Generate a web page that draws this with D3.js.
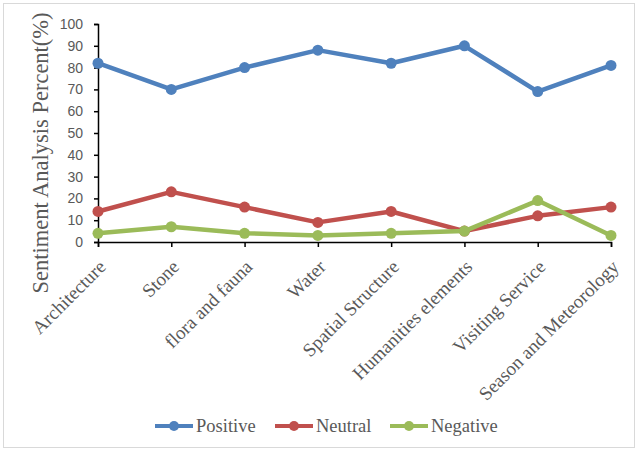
<!DOCTYPE html>
<html>
<head>
<meta charset="utf-8">
<script src="https://cdn.jsdelivr.net/npm/d3@7"></script>
<style>
  html, body { margin: 0; padding: 0; background: #fff; }
  svg { display: block; }
</style>
</head>
<body>
<svg id="chart" width="638" height="452"></svg>
<script>
// Sentiment share (%) for each landscape category
const categories = ["Architecture", "Stone", "flora and fauna", "Water", "Spatial Structure", "Humanities elements", "Visiting Service", "Season and Meteorology"];
const positive = [82, 70, 80, 88, 82, 90, 69, 81];
const neutral  = [14, 23, 16, 9, 14, 5, 12, 16];
const negative = [4, 7, 4, 3, 4, 5, 19, 3];
const seriesNames = ["Positive", "Neutral", "Negative"];
const yTicks = [0, 10, 20, 30, 40, 50, 60, 70, 80, 90, 100];

const colors = ["#4f81bd", "#c0504d", "#9bbb59"];
const series = [positive, neutral, negative].map((vals, i) => ({
  name: seriesNames[i], color: colors[i], values: vals
}));

const svg = d3.select("#chart");

// outer frame
svg.append("rect")
  .attr("x", 3.5).attr("y", 3.5).attr("width", 631).attr("height", 444)
  .attr("fill", "#fff").attr("stroke", "#d9d9d9").attr("stroke-width", 1);

const plot = { left: 98, right: 611, top: 24, bottom: 242 };

const x = d3.scalePoint().domain(categories).range([plot.left, plot.right]).padding(0);
const y = d3.scaleLinear().domain([0, 100]).range([plot.bottom, plot.top]);

const serif = "'Liberation Serif', 'Times New Roman', serif";

// y axis
const yAxis = svg.append("g")
  .attr("transform", `translate(${plot.left},0)`)
  .call(d3.axisLeft(y).tickValues(yTicks).tickSize(4).tickPadding(11));
yAxis.select(".domain").attr("stroke", "#000").attr("stroke-width", 1.5);
yAxis.selectAll(".tick line").attr("stroke", "#000").attr("stroke-width", 1.5);
yAxis.selectAll(".tick text")
  .attr("fill", "#595959")
  .style("font-family", "'Liberation Sans', Arial, sans-serif")
  .style("font-size", "14px");

// x axis
const xAxis = svg.append("g")
  .attr("transform", `translate(0,${plot.bottom})`)
  .call(d3.axisBottom(x).tickSize(5).tickFormat(""));
xAxis.select(".domain").attr("stroke", "#000").attr("stroke-width", 1.5);
xAxis.selectAll(".tick line").attr("stroke", "#000").attr("stroke-width", 1.5);

// rotated category labels
svg.append("g").selectAll("text")
  .data(categories)
  .join("text")
  .attr("transform", d => `translate(${x(d) + 9},${plot.bottom + 26}) rotate(-45)`)
  .attr("text-anchor", "end")
  .attr("fill", "#595959")
  .style("font-family", serif)
  .style("font-size", "19px")
  .text(d => d);

// y axis title
svg.append("text")
  .attr("transform", `translate(48,153) rotate(-90)`)
  .attr("text-anchor", "middle")
  .attr("fill", "#595959")
  .style("font-family", serif)
  .style("font-size", "22.5px")
  .text("Sentiment Analysis Percent(%)");

// lines and markers
const line = d3.line()
  .x((d, i) => x(categories[i]))
  .y(d => y(d));

const g = svg.append("g");
series.forEach(s => {
  g.append("path")
    .datum(s.values)
    .attr("d", line)
    .attr("fill", "none")
    .attr("stroke", s.color)
    .attr("stroke-width", 4.5)
    .attr("stroke-linejoin", "round");
  g.selectAll(null)
    .data(s.values)
    .join("circle")
    .attr("cx", (d, i) => x(categories[i]))
    .attr("cy", d => y(d))
    .attr("r", 5.5)
    .attr("fill", s.color);
});

// legend
const legendItems = [
  { x0: 155, name: seriesNames[0], color: colors[0] },
  { x0: 275, name: seriesNames[1], color: colors[1] },
  { x0: 390, name: seriesNames[2], color: colors[2] }
];
const lg = svg.append("g").attr("transform", "translate(0,426)");
legendItems.forEach(it => {
  lg.append("line")
    .attr("x1", it.x0).attr("x2", it.x0 + 38)
    .attr("y1", 0).attr("y2", 0)
    .attr("stroke", it.color).attr("stroke-width", 4);
  lg.append("circle")
    .attr("cx", it.x0 + 19).attr("cy", 0).attr("r", 5)
    .attr("fill", it.color);
  lg.append("text")
    .attr("x", it.x0 + 41).attr("y", 6)
    .attr("fill", "#595959")
    .style("font-family", serif)
    .style("font-size", "18.5px")
    .text(it.name);
});
</script>
</body>
</html>
